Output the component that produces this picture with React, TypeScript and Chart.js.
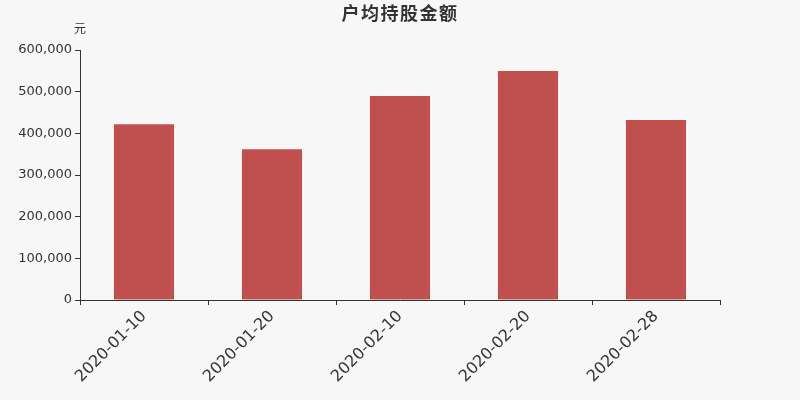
import { useEffect, useRef } from "react";
import { Chart, registerables } from "chart.js";

Chart.register(...registerables);

const dates = ["2020-01-10", "2020-01-20", "2020-02-10", "2020-02-20", "2020-02-28"];
const amounts = [422000, 362000, 489500, 549500, 432000];
const yTicks = [0, 100000, 200000, 300000, 400000, 500000, 600000];

const FONT = "'DejaVu Sans', sans-serif";

const App = () => {
  const chartRef = useRef<HTMLCanvasElement>(null);

  useEffect(() => {
    const ctx = chartRef.current?.getContext("2d");
    if (!ctx) return;

    // background, title and unit label
    const decor = {
      id: "decor",
      beforeDraw(chart: Chart) {
        const c = chart.ctx;
        c.save();
        c.fillStyle = "#f7f7f7";
        c.fillRect(0, 0, chart.width, chart.height);
        c.restore();
      },
      afterDraw(chart: Chart) {
        const c = chart.ctx as any;
        c.save();
        c.fillStyle = "#333";
        c.textAlign = "center";
        c.textBaseline = "middle";
        c.font = "bold 18px 'Noto Sans CJK SC', sans-serif";
        c.letterSpacing = "1.5px";
        c.fillText("户均持股金额", 400, 13.5);
        c.letterSpacing = "0px";
        c.font = "12px 'Noto Sans CJK SC', sans-serif";
        c.fillText("元", 80, 28);
        c.restore();
      },
    };

    const chart = new Chart(ctx, {
      type: "bar",
      plugins: [decor],
      data: {
        labels: dates,
        datasets: [
          {
            data: amounts,
            backgroundColor: "#c0504d",
            categoryPercentage: 0.47,
            barPercentage: 1,
          },
        ],
      },
      options: {
        animation: false,
        responsive: false,
        layout: { padding: { left: 0, right: 80, top: 50, bottom: 0 } },
        plugins: {
          legend: { display: false },
          title: { display: false },
          tooltip: { enabled: false },
        },
        scales: {
          x: {
            afterFit: (s: any) => {
              s.height = 100;
            },
            grid: {
              offset: true,
              drawOnChartArea: false,
              color: "#333",
              tickLength: 5,
            },
            border: { color: "#333", width: 1 },
            ticks: {
              color: "#333",
              font: { family: FONT, size: 16 },
              maxRotation: 45,
              minRotation: 45,
              padding: 2,
            },
          },
          y: {
            min: 0,
            max: 600000,
            afterFit: (s: any) => {
              s.width = 80;
            },
            afterBuildTicks: (s: any) => {
              s.ticks = yTicks.map((v) => ({ value: v }));
            },
            grid: {
              drawOnChartArea: false,
              color: "#333",
              tickLength: 5,
            },
            border: { color: "#333", width: 1 },
            ticks: {
              color: "#333",
              font: { family: FONT, size: 13 },
              padding: 3,
              callback: (v: any) => Number(v).toLocaleString("en-US"),
            },
          },
        },
      },
    });

    return () => {
      chart.destroy();
    };
  }, []);

  return (
    <div style={{ position: "fixed", left: 0, top: 0, width: 800, height: 400 }}>
      <canvas ref={chartRef} width={800} height={400} />
    </div>
  );
};

export default App;
